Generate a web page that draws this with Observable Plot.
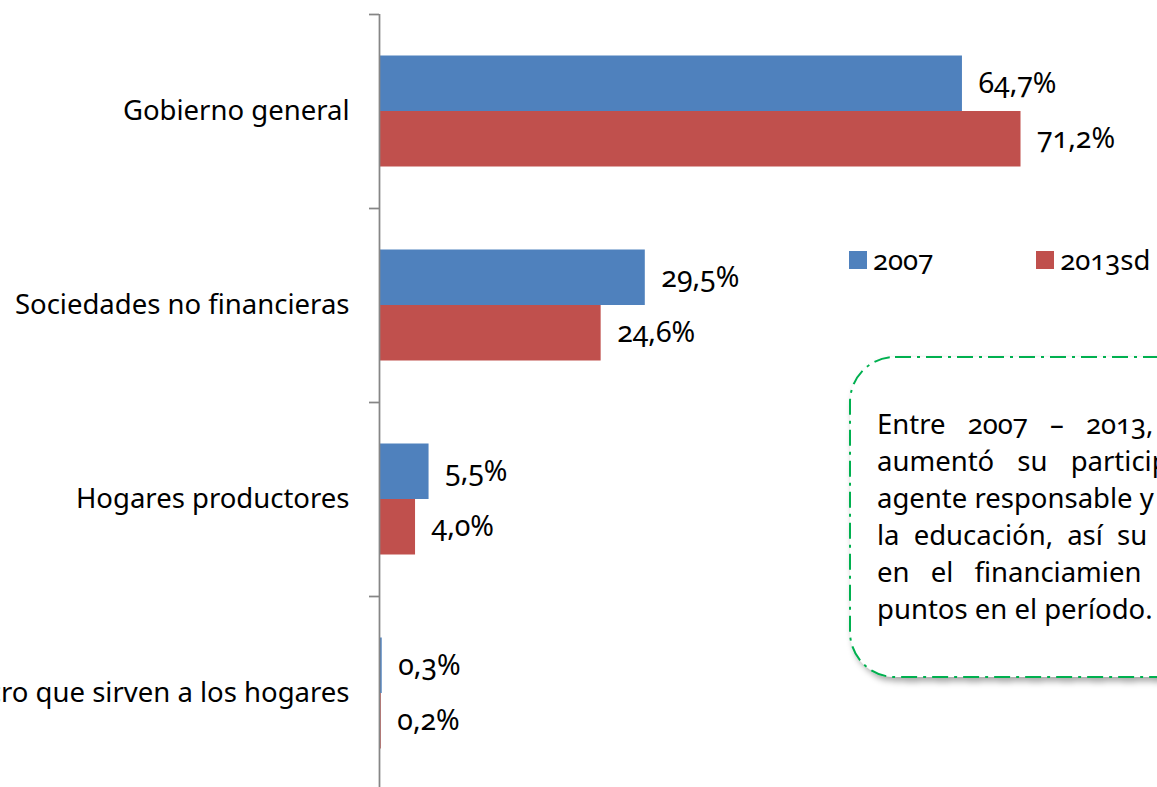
<!DOCTYPE html>
<html>
<head>
<meta charset="utf-8">
<script src="https://cdn.jsdelivr.net/npm/d3@7"></script>
<script src="https://cdn.jsdelivr.net/npm/@observablehq/plot@0.6"></script>
<style>
  html, body { margin: 0; padding: 0; background: #fff; overflow: hidden; }
  #wrap { position: relative; width: 1157px; height: 787px; overflow: hidden; font-family: "Noto Sans", sans-serif; }
  #wrap svg text { font-variant-numeric: oldstyle-nums; font-feature-settings: "onum" 1; }
  #legend { position: absolute; left: 849px; top: 241px; display: flex; align-items: center; font-size: 27.5px; color: #000; white-space: nowrap; font-variant-numeric: oldstyle-nums; font-feature-settings: "onum" 1; }
  #legend .item { display: flex; align-items: center; }
  #legend .sw { width: 18px; height: 18px; display: inline-block; margin-right: 6px; }
  #box { position: absolute; left: 0; top: 0; pointer-events: none; }
  #note { position: absolute; left: 877px; top: 405px; font-size: 27.5px; line-height: 37px; color: #000; white-space: nowrap; font-variant-numeric: oldstyle-nums; font-feature-settings: "onum" 1; }
</style>
</head>
<body>
<div id="wrap"></div>
<script>
const categories = [
  "Gobierno general",
  "Sociedades no financieras",
  "Hogares productores",
  "Instituciones sin fines de lucro que sirven a los hogares"
];
const series = ["2007", "2013sd"];
const values2007 = [64.7, 29.5, 5.5, 0.3];
const values2013 = [71.2, 24.6, 4.0, 0.2];
const seriesColors = ["#4F81BD", "#C0504D"];
const noteLines = [
  "Entre 2007 – 2013,",
  "aumentó su particip",
  "agente responsable y",
  "la educación, así su",
  "en el financiamien",
  "puntos en el período."
];
const noteWordSpacing = [15, 16, 0, 7, 14, 0];

const rows2007 = categories.map((c, i) => ({cat: c, serie: series[0], value: values2007[i]}));
const rows2013 = categories.map((c, i) => ({cat: c, serie: series[1], value: values2013[i]}));
const fmt = v => v.toFixed(1).replace(".", ",") + "%";

const axisX = 379, pxPerUnit = 9.01;
const yTop = 14, yBottom = 790;
const step = (yBottom - yTop) / categories.length;   // 194
const barH = 55.5;
const outer = (step - 2 * barH) / 2;                 // 41.5
const axisGray = "#868686";

const chart = Plot.plot({
  width: 1157,
  height: 787,
  marginTop: yTop,
  marginBottom: 0,
  marginLeft: axisX,
  marginRight: 0,
  x: {domain: [0, 80], range: [axisX, axisX + 80 * pxPerUnit], axis: null},
  y: {domain: categories, range: [yTop, yBottom], padding: 0, axis: null},
  color: {domain: series, range: seriesColors},
  style: {fontFamily: "Noto Sans, sans-serif", background: "white", overflow: "hidden"},
  marks: [
    Plot.barX(rows2007, {x: "value", y: "cat", fill: "serie", insetTop: outer, insetBottom: step - outer - barH}),
    Plot.barX(rows2013, {x: "value", y: "cat", fill: "serie", insetTop: outer + barH, insetBottom: outer}),
    Plot.ruleX([0], {stroke: axisGray, strokeWidth: 1.75}),
    Plot.ruleY(categories, {y: d => d, x1: 0, x2: 0, insetLeft: -10, dy: -step / 2, stroke: axisGray, strokeWidth: 1.75}),
    Plot.text(categories, {y: d => d, text: d => d, frameAnchor: "left", textAnchor: "end", dx: -30, fontSize: 27.5, fill: "#000"}),
    Plot.text(rows2007, {x: "value", y: "cat", text: d => fmt(d.value), textAnchor: "start", dx: 16, dy: -barH / 2, fontSize: 28.5, fill: "#000"}),
    Plot.text(rows2013, {x: "value", y: "cat", text: d => fmt(d.value), textAnchor: "start", dx: 16, dy: barH / 2, fontSize: 28.5, fill: "#000"})
  ]
});

const wrap = document.getElementById("wrap");
wrap.appendChild(chart);

// Legend
const legend = document.createElement("div");
legend.id = "legend";
series.forEach((s, i) => {
  const item = document.createElement("span");
  item.className = "item";
  item.style.marginRight = i === 0 ? "103px" : "0";
  const sw = document.createElement("span");
  sw.className = "sw";
  sw.style.background = seriesColors[i];
  const t = document.createElement("span");
  t.textContent = s;
  item.appendChild(sw);
  item.appendChild(t);
  legend.appendChild(item);
});
wrap.appendChild(legend);

// Annotation box
const ns = "http://www.w3.org/2000/svg";
const box = document.createElementNS(ns, "svg");
box.setAttribute("id", "box");
box.setAttribute("width", 1157);
box.setAttribute("height", 787);
box.innerHTML = `
  <defs>
    <filter id="sh" x="-10%" y="-10%" width="130%" height="130%">
      <feDropShadow dx="3" dy="4" stdDeviation="3" flood-color="#000" flood-opacity="0.35"/>
    </filter>
  </defs>
  <rect x="850" y="357" width="520" height="320" rx="45" ry="45" fill="#fff"
        stroke="#00B050" stroke-width="2" stroke-dasharray="16 6 3 6" filter="url(#sh)"/>`;
wrap.appendChild(box);

const note = document.createElement("div");
note.id = "note";
noteLines.forEach((line, i) => {
  const d = document.createElement("div");
  d.textContent = line;
  d.style.wordSpacing = noteWordSpacing[i] + "px";
  note.appendChild(d);
});
wrap.appendChild(note);
</script>
</body>
</html>
